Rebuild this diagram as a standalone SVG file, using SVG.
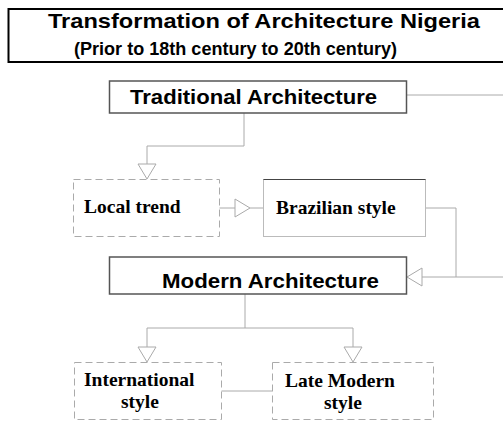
<svg xmlns="http://www.w3.org/2000/svg" width="503" height="421" viewBox="0 0 503 421">
  <style>
    .sans { font-family: "Liberation Sans", Arial, sans-serif; font-weight: bold; fill: #000; }
    .serif { font-family: "Liberation Serif", "Times New Roman", serif; font-weight: bold; font-size: 19.5px; fill: #000; }
    .main { fill: #fff; stroke: #555; stroke-width: 1.5; }
    .dash { fill: #fff; stroke: #aaa; stroke-width: 1; stroke-dasharray: 7 4; }
    .conn { fill: none; stroke: #aaa; stroke-width: 1; }
    .head { fill: #fff; stroke: #aaa; stroke-width: 1; }
  </style>
  <rect width="503" height="421" fill="#fff"/>

  <g id="connectors">
    <path class="conn" d="M407 95 H503"/>
    <path class="conn" d="M244 113 V146 H147 V164"/>
    <polygon class="head" points="138,164 156,164 147,179"/>
    <path class="conn" d="M219 208 H235 M250 208 H263"/>
    <polygon class="head" points="235,199 235,217 250,208"/>
    <path class="conn" d="M426 208 H456 V277 M503 277 H422"/>
    <polygon class="head" points="422,268 422,286 407,277"/>
    <path class="conn" d="M245 294 V328 H147 V347 M245 328 H353 V347"/>
    <polygon class="head" points="138,347 156,347 147,362"/>
    <polygon class="head" points="344,347 362,347 353,362"/>
    <path class="conn" d="M221 391 H272"/>
  </g>

  <g id="title">
    <rect x="8.5" y="9" width="500" height="53" fill="#fff" stroke="#000" stroke-width="2"/>
    <text class="sans" x="48" y="28" font-size="21" textLength="432" lengthAdjust="spacingAndGlyphs">Transformation of  Architecture Nigeria</text>
    <text class="sans" x="74" y="55" font-size="17.5" textLength="323" lengthAdjust="spacingAndGlyphs">(Prior to 18th century to 20th century)</text>
  </g>

  <g id="traditional">
    <rect class="main" x="109.5" y="81" width="297" height="32"/>
    <text class="sans" x="130" y="104" font-size="21" textLength="247" lengthAdjust="spacingAndGlyphs">Traditional Architecture</text>
  </g>

  <g id="local-trend">
    <rect class="dash" x="73.5" y="179.5" width="146" height="57"/>
    <text class="serif" x="84" y="213">Local trend</text>
  </g>

  <g id="brazilian">
    <rect x="263.5" y="179.5" width="162" height="57" fill="#fff" stroke="#bbb" stroke-width="1"/>
    <line x1="263.5" y1="179.5" x2="425.5" y2="179.5" stroke="#444" stroke-width="1"/>
    <text class="serif" x="276" y="214">Brazilian style</text>
  </g>

  <g id="modern">
    <rect class="main" x="109.5" y="257" width="297" height="37"/>
    <text class="sans" x="162" y="288" font-size="21" textLength="217" lengthAdjust="spacingAndGlyphs">Modern Architecture</text>
  </g>

  <g id="international">
    <rect class="dash" x="74.5" y="362.5" width="147" height="57"/>
    <text class="serif" x="84" y="386">International</text>
    <text class="serif" x="121" y="408">style</text>
  </g>

  <g id="late-modern">
    <rect class="dash" x="272.5" y="362.5" width="161" height="57"/>
    <text class="serif" x="285" y="387">Late Modern</text>
    <text class="serif" x="324" y="409">style</text>
  </g>
</svg>
